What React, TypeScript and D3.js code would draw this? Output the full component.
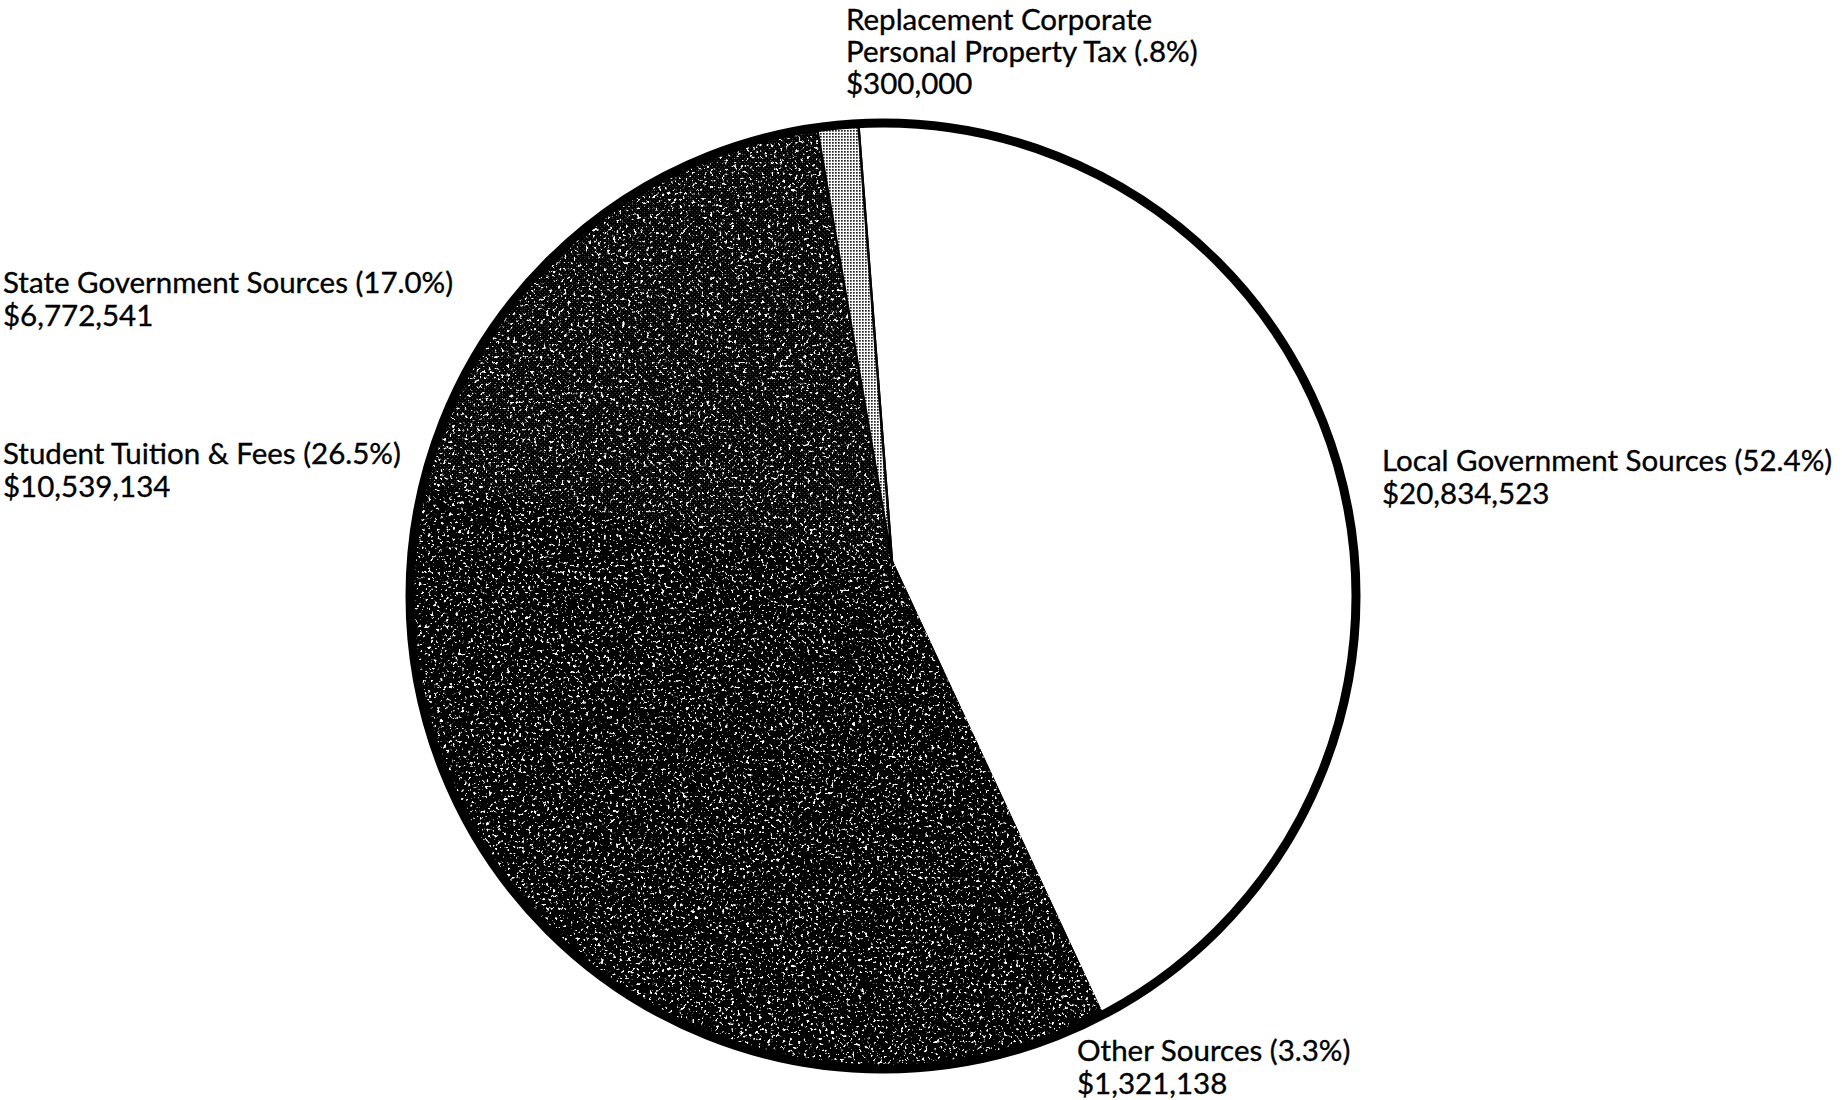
import React, { useEffect, useRef } from 'react';
import * as d3 from 'd3';

// slices, clockwise from the top of the white slice
const categories = [
  'Local Government Sources',
  'Other Sources',
  'Student Tuition & Fees',
  'State Government Sources',
  'Replacement Corporate Personal Property Tax',
];
const nameLines = [
  ['Local Government Sources'],
  ['Other Sources'],
  ['Student Tuition & Fees'],
  ['State Government Sources'],
  ['Replacement Corporate', 'Personal Property Tax'],
];
const amounts = [20834523, 1321138, 10539134, 6772541, 300000];
const percentLabels = ['52.4%', '3.3%', '26.5%', '17.0%', '.8%'];
// share of the circle each slice takes as it is drawn in the picture (%)
const drawnShares = [44.3, 3.8, 30.7, 19.7, 1.5];

const fills = ['#ffffff', 'url(#darkA)', 'url(#darkA)', 'url(#darkB)', 'url(#lightDots)'];
const grainy = [false, true, true, true, false];

// label anchor (left x, first baseline y)
const labelPos = [
  { x: 1382, y: 471 },
  { x: 1077, y: 1061 },
  { x: 3, y: 464 },
  { x: 3, y: 293 },
  { x: 846, y: 30 },
];

const W = 1842;
const H = 1100;

const App: React.FC = () => {
  const svgRef = useRef<SVGSVGElement | null>(null);

  useEffect(() => {
    if (!svgRef.current) return;
    const svg = d3.select(svgRef.current).html('');

    const cx = 883, cy = 596, r = 473;
    const apex = { x: 892, y: 562 }; // slices meet a little above the circle's centre
    const startAngle = (-4.4 * Math.PI) / 180;

    const defs = svg.append('defs');

    defs.append('clipPath').attr('id', 'disc')
      .append('circle').attr('cx', cx).attr('cy', cy).attr('r', r);

    const grain = defs.append('filter')
      .attr('id', 'grain')
      .attr('x', 0).attr('y', 0).attr('width', 1).attr('height', 1)
      .attr('color-interpolation-filters', 'sRGB');
    grain.append('feTurbulence')
      .attr('type', 'fractalNoise')
      .attr('baseFrequency', 0.33)
      .attr('numOctaves', 3)
      .attr('seed', 7)
      .attr('result', 'noise');
    grain.append('feColorMatrix')
      .attr('in', 'noise')
      .attr('type', 'matrix')
      .attr('values', '0 0 0 0 1  0 0 0 0 1  0 0 0 0 1  10 0 0 0 -6.1')
      .attr('result', 'spots');
    grain.append('feComposite')
      .attr('in', 'spots').attr('in2', 'SourceGraphic')
      .attr('operator', 'in').attr('result', 'clipped');
    const merge = grain.append('feMerge');
    merge.append('feMergeNode').attr('in', 'SourceGraphic');
    merge.append('feMergeNode').attr('in', 'clipped');

    const darkA = defs.append('pattern')
      .attr('id', 'darkA').attr('patternUnits', 'userSpaceOnUse')
      .attr('width', 4).attr('height', 4);
    darkA.append('rect').attr('width', 4).attr('height', 4).attr('fill', '#000');

    const darkB = defs.append('pattern')
      .attr('id', 'darkB').attr('patternUnits', 'userSpaceOnUse')
      .attr('width', 4).attr('height', 4);
    darkB.append('rect').attr('width', 4).attr('height', 4).attr('fill', '#000');
    darkB.append('rect').attr('x', 0).attr('y', 0).attr('width', 1).attr('height', 1).attr('fill', '#3a3a3a');
    darkB.append('rect').attr('x', 2).attr('y', 2).attr('width', 1).attr('height', 1).attr('fill', '#2a2a2a');

    const light = defs.append('pattern')
      .attr('id', 'lightDots').attr('patternUnits', 'userSpaceOnUse')
      .attr('width', 3).attr('height', 3);
    light.append('rect').attr('width', 3).attr('height', 3).attr('fill', '#fff');
    light.append('rect').attr('width', 1.7).attr('height', 1.7).attr('fill', '#222');

    const pie = d3.pie<number>()
      .sort(null)
      .value(d => d)
      .startAngle(startAngle)
      .endAngle(startAngle + 2 * Math.PI);

    const arc = d3.arc<d3.PieArcDatum<number>>()
      .innerRadius(0)
      .outerRadius(560);

    const slices = svg.append('g')
      .attr('clip-path', 'url(#disc)')
      .append('g')
      .attr('transform', `translate(${apex.x},${apex.y})`);

    slices.selectAll('path')
      .data(pie(drawnShares))
      .enter()
      .append('path')
      .attr('d', arc)
      .attr('fill', (d, i) => fills[i])
      .attr('filter', (d, i) => (grainy[i] ? 'url(#grain)' : null))
      .attr('stroke', '#000')
      .attr('stroke-width', 2.5)
      .attr('stroke-linejoin', 'round');

    svg.append('circle')
      .attr('cx', cx).attr('cy', cy).attr('r', r)
      .attr('fill', 'none')
      .attr('stroke', '#000')
      .attr('stroke-width', 9);

    // labels
    const money = d3.format('$,');
    const labels = svg.append('g')
      .attr('font-family', 'Lato, "Open Sans", sans-serif')
      .attr('font-size', 29.5)
      .attr('fill', '#000')
      .attr('stroke', '#000')
      .attr('stroke-width', 0.35);

    categories.forEach((cat, i) => {
      const lines = nameLines[i].slice();
      lines[lines.length - 1] = `${lines[lines.length - 1]} (${percentLabels[i]})`;
      lines.push(money(amounts[i]));
      const t = labels.append('text')
        .attr('x', labelPos[i].x)
        .attr('y', labelPos[i].y)
        .attr('data-category', cat);
      lines.forEach((line, j) => {
        t.append('tspan')
          .attr('x', labelPos[i].x)
          .attr('dy', j === 0 ? 0 : (i === 4 ? 32 : 33))
          .text(line);
      });
    });
  }, []);

  return (
    <svg
      ref={svgRef}
      width={W}
      height={H}
      viewBox={`0 0 ${W} ${H}`}
      style={{ position: 'absolute', left: 0, top: 0, background: '#fff' }}
    />
  );
};

export default App;
